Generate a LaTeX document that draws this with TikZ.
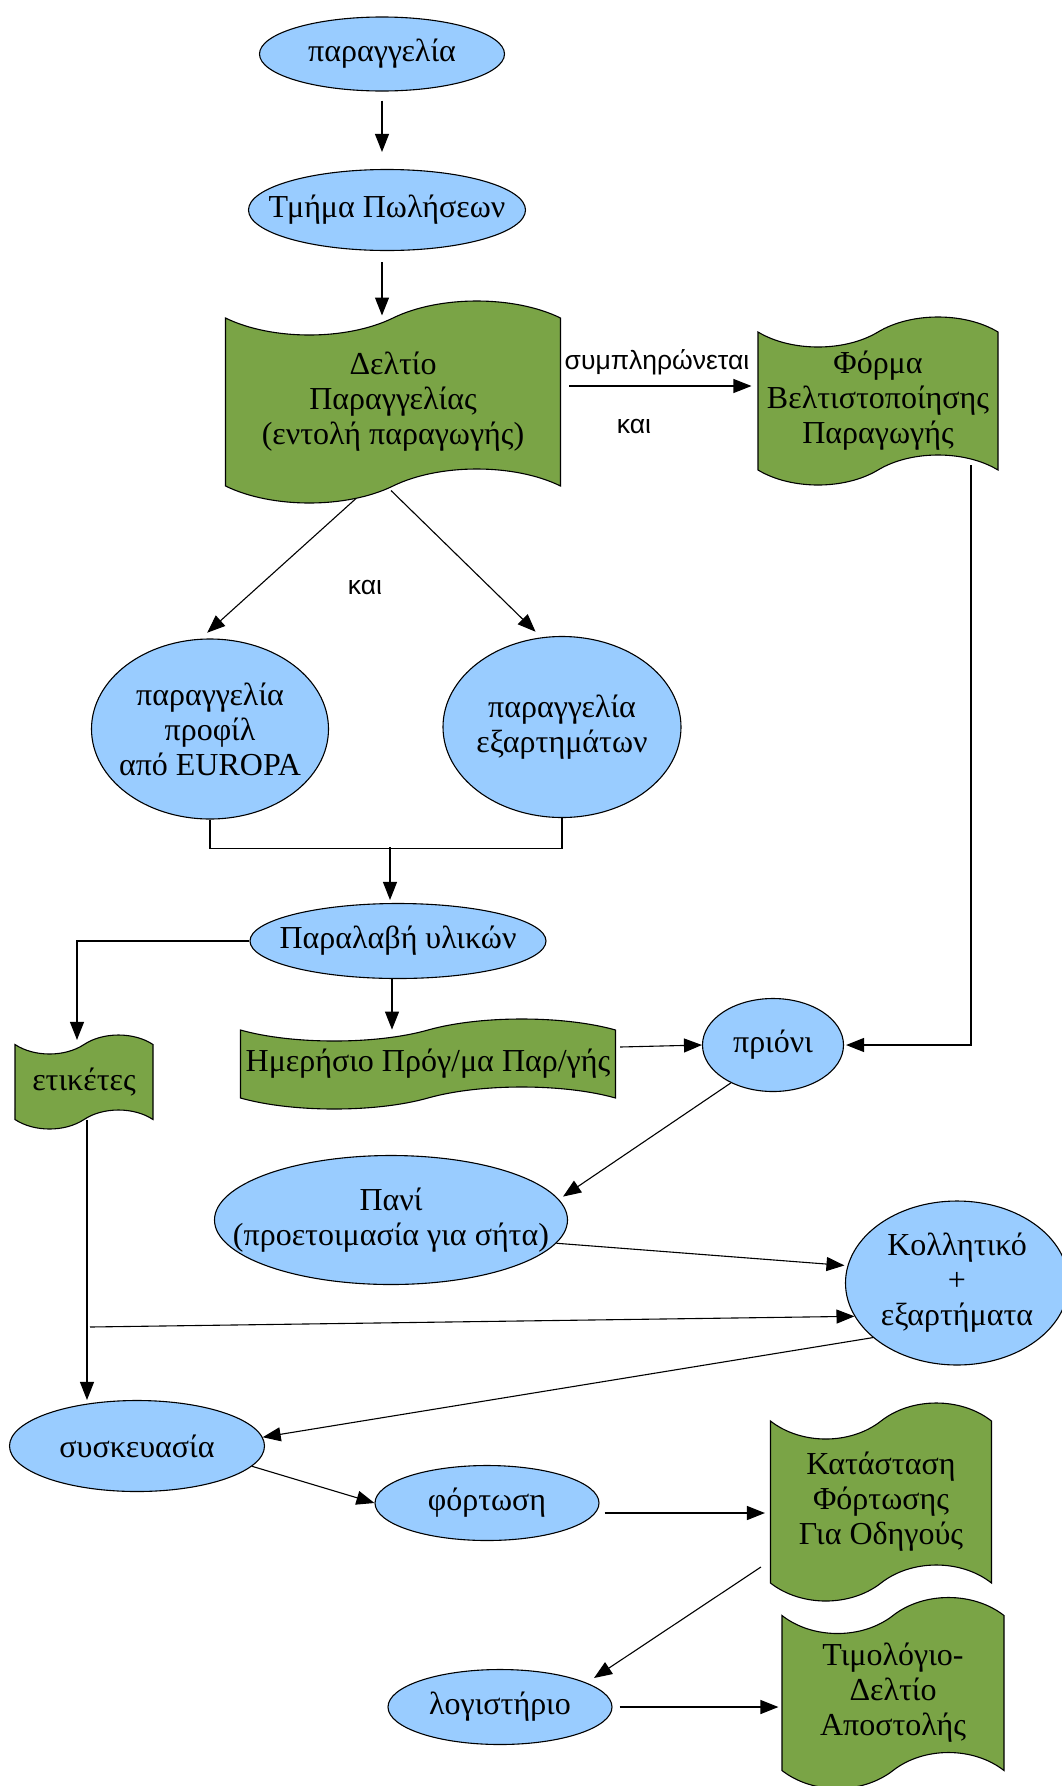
\documentclass[tikz,border=0pt]{standalone}
\usepackage{fontspec}
\setmainfont{Liberation Serif}
\newfontfamily\labelfont{Liberation Sans}
\usetikzlibrary{shapes.geometric,shapes.symbols,arrows.meta}
\definecolor{stepblue}{RGB}{153,204,255}
\definecolor{docgreen}{RGB}{122,164,70}

\begin{document}
\begin{tikzpicture}[x=1pt, y=-1pt, line width=1.1pt,
  every node/.style={font=\fontsize{32}{35}\selectfont, align=center},
  proc/.style={ellipse, draw, fill=stepblue, inner xsep=-60pt, inner ysep=-20pt},
  doc/.style={tape, draw, fill=docgreen, inner sep=0pt,
    tape bend top=in and out, tape bend bottom=in and out},
  flow/.style={-{Triangle[length=18pt,width=14pt]}},
  note/.style={font=\labelfont\fontsize{26.5}{30}\selectfont}]
  \useasboundingbox (0,0) rectangle (1062,1786);

  % order and sales
  \node[proc, minimum width=245pt, minimum height=74pt] (order) at (382,54) {παραγγελία};
  \node[proc, minimum width=277pt, minimum height=81pt] (sales) at (387,210) {Τμήμα Πωλήσεων};

  % documents at the top
  \node[doc, minimum width=335pt, minimum height=202pt, tape bend height=34pt] (slip) at (393,402)
    {Δελτίο\\Παραγγελίας\\(εντολή παραγωγής)};
  \node[doc, minimum width=240pt, minimum height=168pt, tape bend height=30pt] (form) at (878,401)
    {Φόρμα\\Βελτιστοποίησης\\Παραγωγής};
  \node[note] (fills) at (657,362) {συμπληρώνεται};
  \node[note] (and1) at (634,426) {και};

  % the two orders
  \node[proc, minimum width=237pt, minimum height=180pt] (profile) at (210,729)
    {παραγγελία\\προφίλ\\από EUROPA};
  \node[proc, minimum width=238pt, minimum height=181pt] (parts) at (562,727)
    {παραγγελία\\εξαρτημάτων};
  \node[note] (and2) at (365,587) {και};

  % receipt and what follows
  \node[proc, minimum width=296pt, minimum height=75pt] (receipt) at (398,941) {Παραλαβή υλικών};
  \node[doc, minimum width=138pt, minimum height=94pt, tape bend height=19pt] (labels) at (84,1082) {ετικέτες};
  \node[doc, minimum width=375pt, minimum height=90pt, tape bend height=22pt] (daily) at (428,1064)
    {Ημερήσιο Πρόγ/μα Παρ/γής};
  \node[proc, minimum width=141pt, minimum height=93pt] (saw) at (773,1045) {πριόνι};
  \node[proc, minimum width=353pt, minimum height=129pt] (cloth) at (391,1220)
    {Πανί\\(προετοιμασία για σήτα)};
  \node[proc, minimum width=223pt, minimum height=164pt] (glue) at (957,1283)
    {Κολλητικό\\+\\εξαρτήματα};
  \node[proc, minimum width=255pt, minimum height=91pt] (pack) at (137,1446) {συσκευασία};
  \node[proc, minimum width=224pt, minimum height=75pt] (load) at (487,1503) {φόρτωση};
  \node[doc, minimum width=221pt, minimum height=198pt, tape bend height=36pt] (status) at (881,1502)
    {Κατάσταση\\Φόρτωσης\\Για Οδηγούς};
  \node[proc, minimum width=224pt, minimum height=75pt] (account) at (500,1707) {λογιστήριο};
  \node[doc, minimum width=222pt, minimum height=191pt, tape bend height=36pt] (invoice) at (893,1693)
    {Τιμολόγιο-\\Δελτίο\\Αποστολής};

  \coordinate (join) at (390,847);
  \coordinate (tap) at (90,1327);

  % connectors
  \draw[flow, shorten <=9pt, shorten >=17pt] (order.south) -- (order.south |- sales.north);
  \draw[flow, shorten <=11pt] (sales.south -| order.south) -- ([yshift=2pt]slip.north -| order.south);
  \draw[flow] ([xshift=8pt,yshift=16pt]slip.east) -- ([xshift=-6pt,yshift=16pt]slip.east -| form.west);
  \draw[flow] ([xshift=93pt,yshift=-64pt]form.center) |- ([xshift=2pt]saw.east);
  \draw[flow, shorten >=9pt] ([xshift=-37pt,yshift=-12pt]slip.south) -- (profile.96);
  \draw[flow, shorten >=8pt] ([xshift=-2pt,yshift=-4pt]slip.south) -- (parts.103);
  \draw (profile.south) -- ++(0,29) -| (parts.south);
  \draw[flow, shorten >=3pt] (join) -- (join |- receipt.north);
  \draw[flow, shorten >=4pt] (receipt.west) -| ([xshift=-7pt]labels.north);
  \draw[flow] ([xshift=-6pt]receipt.south) -- ([xshift=-6pt]receipt.south |- daily.north);
  \draw[flow] ([xshift=4pt,yshift=17pt]daily.east) -- (saw.west);
  \draw[flow, shorten >=5pt] (saw.222) -- (cloth.7);
  \draw[flow, shorten >=3pt] (cloth.-8) -- (glue.171);
  \draw[flow] ([xshift=3pt]labels.south) -- ([xshift=3pt]labels.south |- pack.north);
  \draw[flow] (tap) -- (glue.198);
  \draw[flow] (glue.213) -- (pack.4);
  \draw[flow] (pack.-10) -- (load.west);
  \draw[flow] ([xshift=5pt,yshift=-10pt]load.east) -- ([xshift=-5pt,yshift=-11pt]status.west);
  \draw[flow] ([shift={(-9pt,-65pt)}]status.west) -- ([shift={(94pt,29pt)}]account.center);
  \draw[flow] ([xshift=7pt]account.east) -- ([xshift=-3pt]account.east -| invoice.west);
\end{tikzpicture}
\end{document}
